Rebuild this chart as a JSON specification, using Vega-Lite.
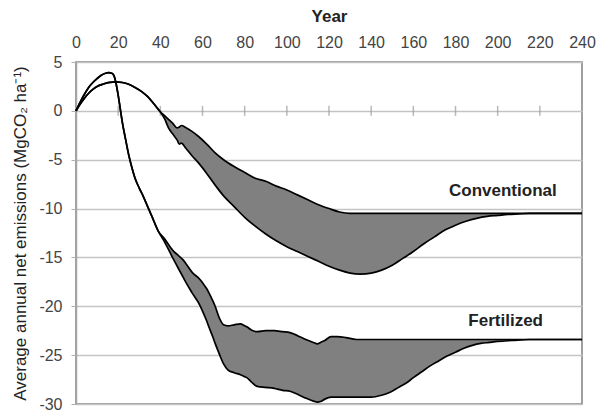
{
  "$schema": "https://vega.github.io/schema/vega-lite/v6.json",
  "width": 506,
  "height": 342,
  "autosize": "none",
  "padding": {"left": 76, "top": 62, "right": 17, "bottom": 10},
  "config": {
    "font": "Liberation Sans",
    "view": {"stroke": "#808080", "strokeWidth": 1.5},
    "axis": {"labelFont": "Liberation Sans", "titleFont": "Liberation Sans"}
  },
  "datasets": {
    "bands": [
      {"s": "C", "year": 0, "hi": 0, "lo": 0},
      {"s": "C", "year": 2, "hi": 0.7, "lo": 0.7},
      {"s": "C", "year": 4, "hi": 1.3, "lo": 1.3},
      {"s": "C", "year": 6, "hi": 1.8, "lo": 1.8},
      {"s": "C", "year": 8, "hi": 2.2, "lo": 2.2},
      {"s": "C", "year": 10, "hi": 2.5, "lo": 2.5},
      {"s": "C", "year": 13, "hi": 2.75, "lo": 2.75},
      {"s": "C", "year": 16, "hi": 2.92, "lo": 2.92},
      {"s": "C", "year": 19, "hi": 2.97, "lo": 2.97},
      {"s": "C", "year": 22, "hi": 2.9, "lo": 2.9},
      {"s": "C", "year": 25, "hi": 2.72, "lo": 2.72},
      {"s": "C", "year": 28, "hi": 2.4, "lo": 2.4},
      {"s": "C", "year": 31, "hi": 2.0, "lo": 2.0},
      {"s": "C", "year": 34, "hi": 1.45, "lo": 1.45},
      {"s": "C", "year": 37, "hi": 0.7, "lo": 0.7},
      {"s": "C", "year": 40, "hi": -0.1, "lo": -0.1},
      {"s": "C", "year": 42, "hi": -0.5, "lo": -0.8},
      {"s": "C", "year": 44, "hi": -0.9, "lo": -1.8},
      {"s": "C", "year": 46, "hi": -1.3, "lo": -2.4},
      {"s": "C", "year": 48, "hi": -1.75, "lo": -3.0},
      {"s": "C", "year": 49, "hi": -1.65, "lo": -3.4},
      {"s": "C", "year": 50, "hi": -1.5, "lo": -3.3},
      {"s": "C", "year": 52, "hi": -1.7, "lo": -3.8},
      {"s": "C", "year": 55, "hi": -2.1, "lo": -4.6},
      {"s": "C", "year": 58, "hi": -2.6, "lo": -5.3},
      {"s": "C", "year": 62, "hi": -3.4, "lo": -6.4},
      {"s": "C", "year": 66, "hi": -4.3, "lo": -7.6},
      {"s": "C", "year": 70, "hi": -5.0, "lo": -8.7},
      {"s": "C", "year": 75, "hi": -5.7, "lo": -9.8},
      {"s": "C", "year": 80, "hi": -6.3, "lo": -10.9},
      {"s": "C", "year": 85, "hi": -6.9, "lo": -11.8},
      {"s": "C", "year": 90, "hi": -7.2, "lo": -12.6},
      {"s": "C", "year": 95, "hi": -7.7, "lo": -13.3},
      {"s": "C", "year": 100, "hi": -8.1, "lo": -13.9},
      {"s": "C", "year": 105, "hi": -8.6, "lo": -14.4},
      {"s": "C", "year": 110, "hi": -9.1, "lo": -14.9},
      {"s": "C", "year": 115, "hi": -9.6, "lo": -15.4},
      {"s": "C", "year": 120, "hi": -10.0, "lo": -15.9},
      {"s": "C", "year": 125, "hi": -10.35, "lo": -16.3},
      {"s": "C", "year": 130, "hi": -10.5, "lo": -16.6},
      {"s": "C", "year": 135, "hi": -10.5, "lo": -16.7},
      {"s": "C", "year": 140, "hi": -10.5, "lo": -16.6},
      {"s": "C", "year": 145, "hi": -10.5, "lo": -16.3},
      {"s": "C", "year": 150, "hi": -10.5, "lo": -15.8},
      {"s": "C", "year": 155, "hi": -10.5, "lo": -15.1},
      {"s": "C", "year": 160, "hi": -10.5, "lo": -14.4},
      {"s": "C", "year": 165, "hi": -10.5, "lo": -13.6},
      {"s": "C", "year": 170, "hi": -10.5, "lo": -12.9},
      {"s": "C", "year": 175, "hi": -10.5, "lo": -12.2},
      {"s": "C", "year": 180, "hi": -10.5, "lo": -11.7},
      {"s": "C", "year": 185, "hi": -10.5, "lo": -11.3},
      {"s": "C", "year": 190, "hi": -10.5, "lo": -11.0},
      {"s": "C", "year": 195, "hi": -10.5, "lo": -10.8},
      {"s": "C", "year": 200, "hi": -10.5, "lo": -10.7},
      {"s": "C", "year": 205, "hi": -10.5, "lo": -10.6},
      {"s": "C", "year": 210, "hi": -10.5, "lo": -10.55},
      {"s": "C", "year": 215, "hi": -10.5, "lo": -10.5},
      {"s": "C", "year": 240, "hi": -10.5, "lo": -10.5},
      {"s": "F", "year": 0, "hi": 0, "lo": 0},
      {"s": "F", "year": 2, "hi": 0.9, "lo": 0.9},
      {"s": "F", "year": 4, "hi": 1.7, "lo": 1.7},
      {"s": "F", "year": 6, "hi": 2.4, "lo": 2.4},
      {"s": "F", "year": 8, "hi": 2.9, "lo": 2.9},
      {"s": "F", "year": 10, "hi": 3.3, "lo": 3.3},
      {"s": "F", "year": 12, "hi": 3.65, "lo": 3.65},
      {"s": "F", "year": 14, "hi": 3.85, "lo": 3.85},
      {"s": "F", "year": 15.5, "hi": 3.92, "lo": 3.92},
      {"s": "F", "year": 17, "hi": 3.85, "lo": 3.85},
      {"s": "F", "year": 18, "hi": 3.6, "lo": 3.6},
      {"s": "F", "year": 19, "hi": 2.8, "lo": 2.8},
      {"s": "F", "year": 20, "hi": 1.6, "lo": 1.6},
      {"s": "F", "year": 21, "hi": 0.2, "lo": 0.2},
      {"s": "F", "year": 22, "hi": -1.2, "lo": -1.2},
      {"s": "F", "year": 23.5, "hi": -2.9, "lo": -2.9},
      {"s": "F", "year": 25, "hi": -4.5, "lo": -4.5},
      {"s": "F", "year": 26.5, "hi": -5.8, "lo": -5.8},
      {"s": "F", "year": 28, "hi": -6.9, "lo": -6.9},
      {"s": "F", "year": 30, "hi": -7.9, "lo": -7.9},
      {"s": "F", "year": 32, "hi": -8.8, "lo": -8.8},
      {"s": "F", "year": 34, "hi": -9.8, "lo": -9.8},
      {"s": "F", "year": 36, "hi": -10.8, "lo": -10.8},
      {"s": "F", "year": 39, "hi": -12.3, "lo": -12.3},
      {"s": "F", "year": 42, "hi": -13.1, "lo": -13.4},
      {"s": "F", "year": 46, "hi": -14.3, "lo": -15.1},
      {"s": "F", "year": 48, "hi": -14.7, "lo": -15.9},
      {"s": "F", "year": 51, "hi": -15.3, "lo": -17.1},
      {"s": "F", "year": 52, "hi": -15.6, "lo": -17.5},
      {"s": "F", "year": 55, "hi": -16.5, "lo": -18.6},
      {"s": "F", "year": 59, "hi": -17.3, "lo": -20.0},
      {"s": "F", "year": 60, "hi": -17.6, "lo": -20.5},
      {"s": "F", "year": 62, "hi": -18.2, "lo": -21.5},
      {"s": "F", "year": 63, "hi": -18.6, "lo": -22.1},
      {"s": "F", "year": 65, "hi": -19.5, "lo": -23.2},
      {"s": "F", "year": 66, "hi": -20.0, "lo": -23.8},
      {"s": "F", "year": 68, "hi": -21.2, "lo": -24.9},
      {"s": "F", "year": 70, "hi": -21.9, "lo": -25.9},
      {"s": "F", "year": 72, "hi": -22.0, "lo": -26.5},
      {"s": "F", "year": 75, "hi": -21.9, "lo": -26.8},
      {"s": "F", "year": 78, "hi": -21.8, "lo": -27.0},
      {"s": "F", "year": 80, "hi": -22.0, "lo": -27.2},
      {"s": "F", "year": 81, "hi": -22.1, "lo": -27.3},
      {"s": "F", "year": 83, "hi": -22.4, "lo": -27.7},
      {"s": "F", "year": 86, "hi": -22.6, "lo": -28.2},
      {"s": "F", "year": 90, "hi": -22.5, "lo": -28.3},
      {"s": "F", "year": 94, "hi": -22.5, "lo": -28.4},
      {"s": "F", "year": 98, "hi": -22.6, "lo": -28.6},
      {"s": "F", "year": 101.5, "hi": -22.7, "lo": -28.7},
      {"s": "F", "year": 104, "hi": -22.9, "lo": -28.9},
      {"s": "F", "year": 106, "hi": -23.1, "lo": -29.1},
      {"s": "F", "year": 109, "hi": -23.4, "lo": -29.4},
      {"s": "F", "year": 112.6, "hi": -23.7, "lo": -29.7},
      {"s": "F", "year": 114.5, "hi": -23.85, "lo": -29.8},
      {"s": "F", "year": 116, "hi": -23.7, "lo": -29.75},
      {"s": "F", "year": 118, "hi": -23.5, "lo": -29.5},
      {"s": "F", "year": 121, "hi": -23.1, "lo": -29.3},
      {"s": "F", "year": 124, "hi": -23.1, "lo": -29.3},
      {"s": "F", "year": 128, "hi": -23.2, "lo": -29.3},
      {"s": "F", "year": 133, "hi": -23.4, "lo": -29.3},
      {"s": "F", "year": 140, "hi": -23.4, "lo": -29.3},
      {"s": "F", "year": 145, "hi": -23.4, "lo": -29.1},
      {"s": "F", "year": 149, "hi": -23.4, "lo": -28.8},
      {"s": "F", "year": 153, "hi": -23.4, "lo": -28.3},
      {"s": "F", "year": 157, "hi": -23.4, "lo": -27.8},
      {"s": "F", "year": 160, "hi": -23.4, "lo": -27.3},
      {"s": "F", "year": 164, "hi": -23.4, "lo": -26.7},
      {"s": "F", "year": 168, "hi": -23.4, "lo": -26.1},
      {"s": "F", "year": 172, "hi": -23.4, "lo": -25.6},
      {"s": "F", "year": 176, "hi": -23.4, "lo": -25.1},
      {"s": "F", "year": 180, "hi": -23.4, "lo": -24.7},
      {"s": "F", "year": 184, "hi": -23.4, "lo": -24.3},
      {"s": "F", "year": 188, "hi": -23.4, "lo": -24.0},
      {"s": "F", "year": 192, "hi": -23.4, "lo": -23.8},
      {"s": "F", "year": 196, "hi": -23.4, "lo": -23.7},
      {"s": "F", "year": 200, "hi": -23.4, "lo": -23.6},
      {"s": "F", "year": 207, "hi": -23.4, "lo": -23.5},
      {"s": "F", "year": 215, "hi": -23.4, "lo": -23.4},
      {"s": "F", "year": 240, "hi": -23.4, "lo": -23.4}
    ],
    "ticks": [
      {"year": 20}, {"year": 40}, {"year": 60}, {"year": 80}, {"year": 100}, {"year": 120},
      {"year": 140}, {"year": 160}, {"year": 180}, {"year": 200}, {"year": 220}
    ],
    "labels": [
      {"label": "Conventional", "year": 228, "v": -8.2},
      {"label": "Fertilized", "year": 221.5, "v": -21.5}
    ]
  },
  "encoding": {
    "x": {
      "field": "year",
      "type": "quantitative",
      "scale": {"domain": [0, 240], "nice": false, "zero": false},
      "axis": {
        "orient": "top",
        "title": "Year",
        "values": [0, 20, 40, 60, 80, 100, 120, 140, 160, 180, 200, 220, 240],
        "grid": false,
        "ticks": false,
        "domain": false,
        "labelFontSize": 16,
        "labelColor": "#444444",
        "labelPadding": 12,
        "labelFlush": false,
        "titleFontSize": 17,
        "titleFontWeight": "bold",
        "titleColor": "#222222",
        "titlePadding": 9
      }
    }
  },
  "layer": [
    {
      "data": {"name": "ticks"},
      "mark": {"type": "tick", "orient": "vertical", "size": 10, "thickness": 1.5, "color": "#9a9a9a"},
      "encoding": {
        "y": {
          "datum": 0,
          "type": "quantitative",
          "scale": {"domain": [-30, 5], "nice": false, "zero": false},
          "axis": {
            "title": "Average annual net emissions (MgCO\u2082 ha\u207b\u00b9)",
            "values": [-30, -25, -20, -15, -10, -5, 0, 5],
            "grid": true,
            "gridColor": "#c4c4c4",
            "gridWidth": 1.5,
            "tickColor": "#b0b0b0",
            "tickSize": 5,
            "domainColor": "#a6a6a6",
            "domainWidth": 1.5,
            "labelFontSize": 16,
            "labelColor": "#444444",
            "labelPadding": 9,
            "labelFlush": false,
            "labelExpr": "replace(datum.label, '\u2212', '-')",
            "titleFontSize": 17,
            "titleFontWeight": "normal",
            "titleColor": "#222222",
            "titlePadding": 9
          }
        }
      }
    },
    {
      "data": {"name": "bands"},
      "mark": {"type": "area", "color": "#808080", "opacity": 1, "interpolate": "monotone"},
      "encoding": {
        "y": {"field": "hi", "type": "quantitative"},
        "y2": {"field": "lo"},
        "detail": {"field": "s"}
      }
    },
    {
      "data": {"name": "bands"},
      "mark": {"type": "line", "color": "#000000", "strokeWidth": 1.7, "interpolate": "monotone"},
      "encoding": {
        "y": {"field": "hi", "type": "quantitative"},
        "detail": {"field": "s"}
      }
    },
    {
      "data": {"name": "bands"},
      "mark": {"type": "line", "color": "#000000", "strokeWidth": 1.7, "interpolate": "monotone"},
      "encoding": {
        "y": {"field": "lo", "type": "quantitative"},
        "detail": {"field": "s"}
      }
    },
    {
      "data": {"name": "labels"},
      "mark": {"type": "text", "align": "right", "baseline": "middle", "fontSize": 17, "fontWeight": "bold", "color": "#222222", "font": "Liberation Sans"},
      "encoding": {
        "y": {"field": "v", "type": "quantitative"},
        "text": {"field": "label"}
      }
    }
  ]
}
